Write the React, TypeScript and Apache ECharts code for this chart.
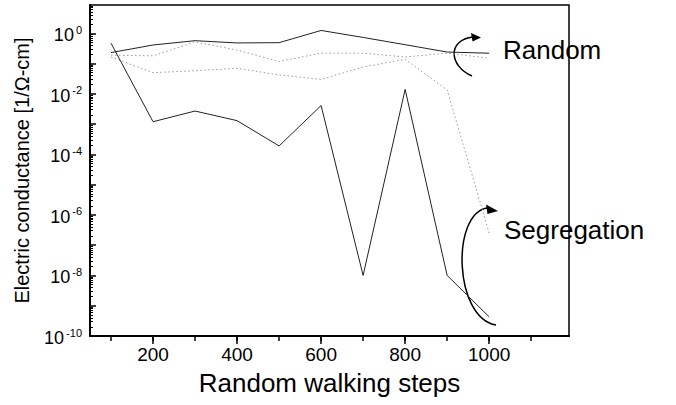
import React, { useEffect, useRef } from 'react';
import * as echarts from 'echarts';

const steps = [100, 200, 300, 400, 500, 600, 700, 800, 900, 1000];
const randomSolid = [0.23, 0.41, 0.57, 0.48, 0.49, 1.24, 0.73, 0.42, 0.24, 0.22];
const randomDotted = [0.19, 0.18, 0.52, 0.28, 0.117, 0.22, 0.22, 0.165, 0.22, 0.15];
const segregationSolid = [0.47, 1.2e-3, 2.7e-3, 1.3e-3, 1.9e-4, 4.1e-3, 1.0e-8, 1.4e-2, 1.0e-8, 4.3e-10];
const segregationDotted = [0.165, 0.05, 0.058, 0.07, 0.042, 0.03, 0.077, 0.138, 0.0134, 2.5e-7];

const xTickValues = [100, 200, 300, 400, 500, 600, 700, 800, 900, 1000, 1100];
const xLabelValues = [200, 400, 600, 800, 1000];
const yDecadeExps = [-10, -9, -8, -7, -6, -5, -4, -3, -2, -1, 0];
const yLabelExps = [-10, -8, -6, -4, -2, 0];

const FONT = 'Liberation Sans, Arial, Helvetica, sans-serif';
const BASE_SIZE = 18;
const SUP_SIZE = 11;

export default function App() {
  const ref = useRef<HTMLDivElement>(null);
  useEffect(() => {
    if (!ref.current) return;
    const chart = echarts.init(ref.current, null, { renderer: 'svg' });
    const yMin = 1e-10;
    const yMax = 8.6;
    const decadeVals = yDecadeExps.map((e) => Math.pow(10, e));
    const minorVals: number[] = [];
    yDecadeExps.forEach((e) => {
      for (let m = 2; m <= 9; m++) {
        const v = m * Math.pow(10, e);
        if (v < yMax) minorVals.push(v);
      }
    });
    const toPairs = (arr: number[]) => steps.map((s, i) => [s, arr[i]]);
    const line = (name: string, arr: number[], dotted: boolean) => ({
      name,
      type: 'line',
      data: toPairs(arr),
      showSymbol: false,
      symbol: 'none',
      xAxisIndex: 0,
      yAxisIndex: 0,
      lineStyle: dotted
        ? { color: '#9a9a9a', width: 1, type: [1.5, 2.5] }
        : { color: '#222', width: 1 },
      z: dotted ? 2 : 3,
    });
    const annotations: any[] = [
      {
        type: 'text',
        left: 503,
        top: 37,
        style: { text: 'Random', fontSize: 26, fill: '#000', fontFamily: FONT },
      },
      {
        type: 'text',
        left: 504,
        top: 217,
        style: { text: 'Segregation', fontSize: 26, fill: '#000', fontFamily: FONT },
      },
      {
        type: 'bezierCurve',
        shape: { x1: 472, y1: 76, cpx1: 449, cpy1: 66, cpx2: 447, cpy2: 40, x2: 473, y2: 37 },
        style: { stroke: '#000', lineWidth: 1.5, fill: 'none' },
      },
      {
        type: 'polygon',
        shape: { points: [[481, 37.5], [471, 33], [472.5, 41.5]] },
        style: { fill: '#000' },
      },
      {
        type: 'bezierCurve',
        shape: { x1: 496, y1: 325, cpx1: 454, cpy1: 318, cpx2: 451, cpy2: 214, x2: 487, y2: 208 },
        style: { stroke: '#000', lineWidth: 1.5, fill: 'none' },
      },
      {
        type: 'polygon',
        shape: { points: [[498, 211], [486, 204.5], [487.5, 214]] },
        style: { fill: '#000' },
      },
    ];
    chart.setOption({
      animation: false,
      backgroundColor: '#fff',
      textStyle: { fontFamily: FONT },
      grid: {
        left: 90,
        right: 107,
        top: 5,
        bottom: 69,
        show: true,
        borderColor: '#000',
        borderWidth: 1.5,
        backgroundColor: 'transparent',
      },
      xAxis: [
        {
          type: 'value',
          min: 50,
          max: 1190,
          position: 'bottom',
          name: 'Random walking steps',
          nameLocation: 'middle',
          nameGap: 34,
          nameTextStyle: { fontSize: 26, color: '#000', fontFamily: FONT },
          axisLine: { show: true, lineStyle: { color: '#000', width: 2 } },
          axisTick: { show: true, inside: false, length: 8, customValues: xLabelValues, lineStyle: { color: '#000', width: 1.5 } },
          axisLabel: {
            show: true,
            customValues: xLabelValues,
            fontSize: 19,
            color: '#000',
            margin: 9,
            fontFamily: FONT,
            formatter: (v: number) => String(v),
          },
          splitLine: { show: false },
        },
        {
          type: 'value',
          min: 50,
          max: 1190,
          position: 'bottom',
          axisLine: { show: false },
          axisTick: { show: true, inside: false, length: 5, customValues: xTickValues, lineStyle: { color: '#000', width: 1.5 } },
          axisLabel: { show: false },
          splitLine: { show: false },
        },
      ],
      yAxis: [
        {
          type: 'log',
          logBase: 10,
          min: yMin,
          max: yMax,
          position: 'left',
          name: 'Electric conductance [1/Ω-cm]',
          nameLocation: 'middle',
          nameGap: 58,
          nameTextStyle: { fontSize: 20, color: '#000', fontFamily: FONT },
          axisLine: { show: true, lineStyle: { color: '#000', width: 2 } },
          axisTick: { show: true, inside: true, length: 6, customValues: decadeVals, lineStyle: { color: '#000', width: 1.5 } },
          axisLabel: { show: false },
          splitLine: { show: false },
          minorTick: { show: false },
        },
        {
          type: 'log',
          logBase: 10,
          min: yMin,
          max: yMax,
          position: 'left',
          axisLine: { show: false },
          axisTick: { show: true, inside: true, length: 3, customValues: minorVals, lineStyle: { color: '#000', width: 1 } },
          axisLabel: { show: false },
          splitLine: { show: false },
        },
      ],
      series: [
        line('Random (dotted)', randomDotted, true),
        line('Segregation (dotted)', segregationDotted, true),
        line('Random', randomSolid, false),
        line('Segregation', segregationSolid, false),
      ],
      graphic: annotations,
    });

    // Y tick labels (10^n with superscript), placed through the log axis scale
    const axisX = chart.convertToPixel({ gridIndex: 0 }, [50, 1])[0];
    const charW = (c: string, size: number) => (c === '-' ? 0.333 : 0.556) * size;
    const yLabels = yLabelExps.map((e) => {
      const py = chart.convertToPixel({ yAxisIndex: 0 }, Math.pow(10, e)) as number;
      const expStr = String(e);
      const w =
        2 * charW('1', BASE_SIZE) +
        2 +
        expStr.split('').reduce((s, c) => s + charW(c, SUP_SIZE), 0);
      return {
        type: 'text',
        x: axisX - 8 - w,
        y: py + 2,
        style: {
          text: '{b|10}{s|' + expStr + '}',
          align: 'left',
          verticalAlign: 'middle',
          fill: '#000',
          fontFamily: FONT,
          rich: {
            b: { fontSize: BASE_SIZE, fill: '#000', fontFamily: FONT, lineHeight: 22 },
            s: { fontSize: SUP_SIZE, fill: '#000', fontFamily: FONT, verticalAlign: 'top', lineHeight: 11, padding: [0, 0, 0, 2] },
          },
        },
      };
    });
    chart.setOption({ graphic: annotations.concat(yLabels) });
    return () => chart.dispose();
  }, []);
  return (
    <div
      ref={ref}
      style={{ position: 'absolute', left: 0, top: 0, width: 676, height: 405, background: '#fff' }}
    />
  );
}
